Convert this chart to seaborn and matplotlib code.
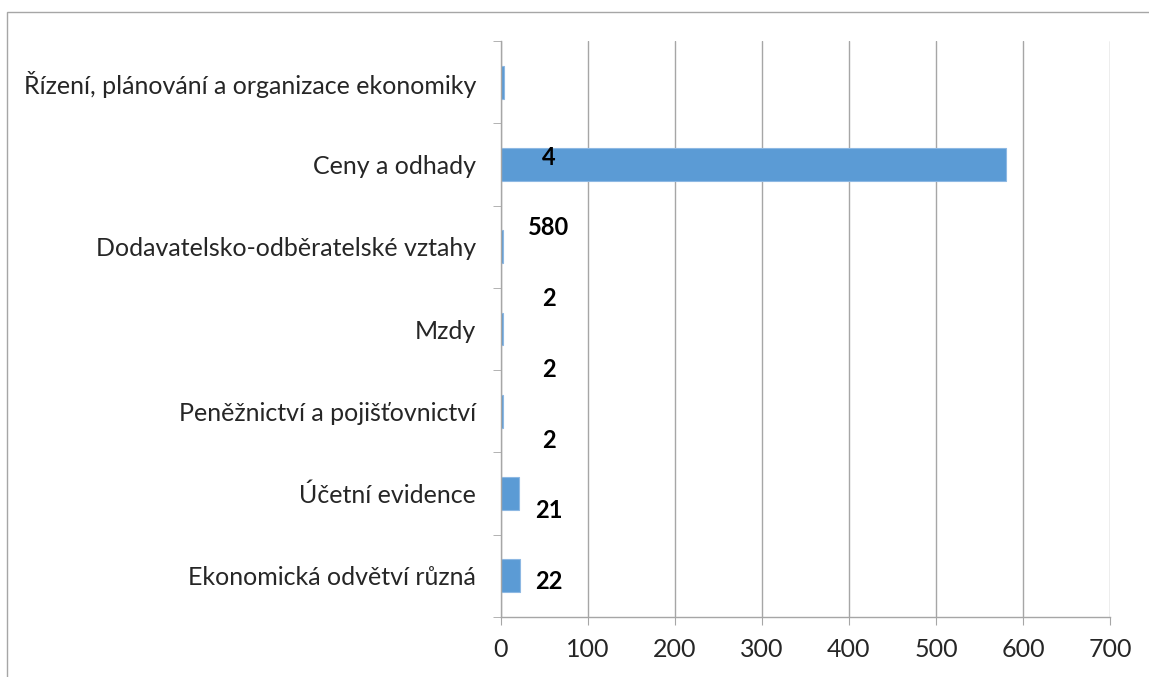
import pandas as pd
import seaborn as sns
import matplotlib.pyplot as plt
from matplotlib.patches import Rectangle

# Data
categories = [
    "Řízení, plánování a organizace ekonomiky",
    "Ceny a odhady",
    "Dodavatelsko-odběratelské vztahy",
    "Mzdy",
    "Peněžnictví a pojišťovnictví",
    "Účetní evidence",
    "Ekonomická odvětví různá",
]
counts = [4, 580, 2, 2, 2, 21, 22]

df = pd.DataFrame({"Kategorie": categories, "Pocet": counts})

sns.set_style("white")
plt.rcParams["font.family"] = ["Lato", "DejaVu Sans"]

fig = plt.figure(figsize=(11.49, 6.77), dpi=100)
ax = fig.add_axes([0.436, 0.0886, 0.530, 0.8508])

sns.barplot(
    data=df,
    x="Pocet",
    y="Kategorie",
    orient="h",
    color="#5B9BD5",
    saturation=1,
    width=0.4,
    edgecolor="#8DB8E3",
    linewidth=0.8,
    ax=ax,
)

ax.set_xlim(0, 700)
ax.set_ylim(6.5, -0.5)
ax.set_xticks(range(0, 701, 100))
ax.grid(axis="x", color="#A6A6A6", linewidth=1)
ax.set_axisbelow(True)
ax.set_xlabel("")
ax.set_ylabel("")

for side in ["top", "right"]:
    ax.spines[side].set_visible(False)
for side in ["left", "bottom"]:
    ax.spines[side].set_color("#A6A6A6")
    ax.spines[side].set_linewidth(1)

# ticks: x outward, y only at category boundaries
ax.tick_params(axis="x", direction="out", length=6, color="#A6A6A6",
               labelsize=18, pad=9, bottom=True)
ax.tick_params(axis="y", length=0, labelsize=18, pad=18)
ax.set_yticks([i + 0.5 for i in range(-1, len(categories))], minor=True)
ax.tick_params(axis="y", which="minor", direction="out", length=6,
               color="#A6A6A6", left=True)

# data labels (shifted like in the original export)
for i, v in enumerate(counts):
    ax.text(55, 0.91 + 0.86 * i, str(v), ha="center", va="center",
            fontsize=17, fontweight="bold", color="black")

# outer chart border
fig.patches.append(Rectangle((7 / 1149, -0.01), 1.02, 1 - 12 / 677 + 0.01,
                             transform=fig.transFigure, fill=False,
                             edgecolor="#A6A6A6", linewidth=1))

fig.savefig("out.png", dpi=100)
